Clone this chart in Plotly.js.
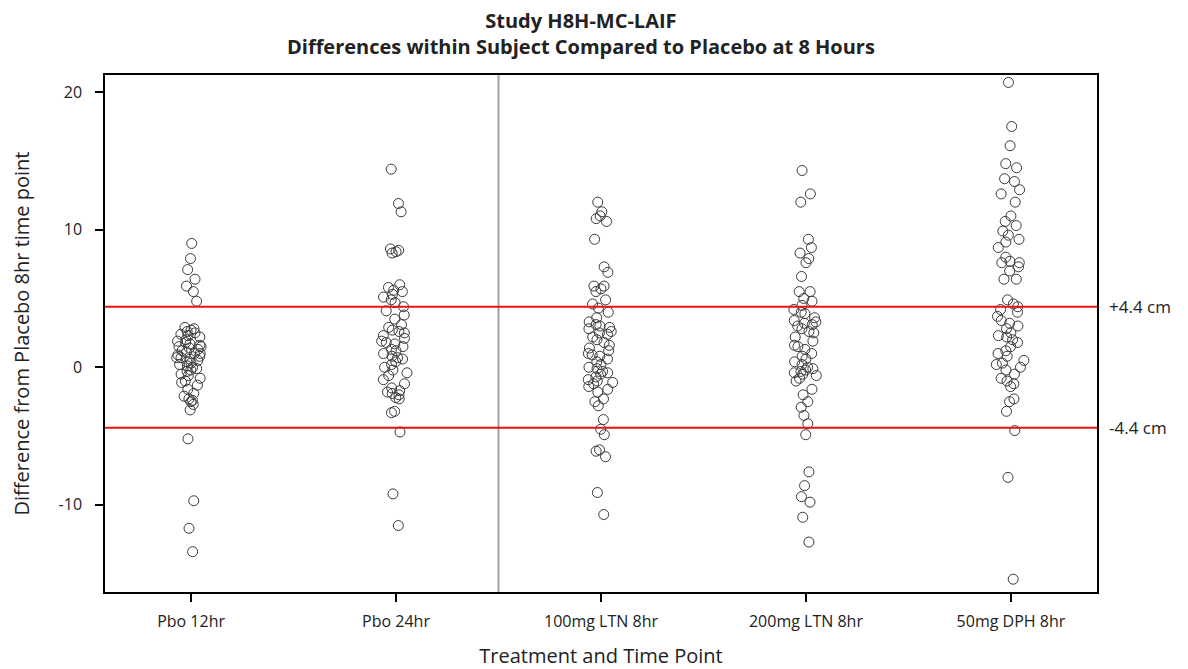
<!DOCTYPE html>
<html>
<head>
<meta charset="utf-8">
<script src="https://cdn.plot.ly/plotly-3.0.1.min.js"></script>
<style>html,body{margin:0;padding:0;background:#fff;}#chart{width:1188px;height:669px;}</style>
</head>
<body>
<div id="chart"></div>
<script>
const categories = ["Pbo 12hr", "Pbo 24hr", "100mg LTN 8hr", "200mg LTN 8hr", "50mg DPH 8hr"];

const pbo12 = [9.0, 7.9, 7.1, 6.4, 5.9, 5.5, 4.8,
  2.9, 2.8, 2.7, 2.6, 2.5, 2.4, 2.3, 2.2, 2.0, 1.9, 1.8, 1.7, 1.6, 1.5, 1.5, 1.4, 1.3, 1.2, 1.1, 1.0, 1.0, 0.9, 0.8,
  0.7, 0.7, 0.6, 0.5, 0.4, 0.3, 0.2, 0.1, 0.0, -0.1, -0.2, -0.3, -0.5, -0.6, -0.8, -1.0, -1.1, -1.3, -1.6, -1.9, -2.1, -2.3,
  -2.4, -2.5, -2.7, -3.1, -5.2, -9.7, -11.7, -13.4];

const pbo24 = [14.4, 11.9, 11.3, 8.6, 8.5, 8.4, 8.3,
  6.0, 5.8, 5.6, 5.5, 5.3, 5.1, 4.9, 4.7, 4.4, 4.1, 3.8, 3.5, 3.1, 2.9, 2.7, 2.6, 2.5, 2.3, 2.1, 1.9, 1.8, 1.7,
  1.5, 1.3, 1.2, 1.0, 0.8, 0.7, 0.6, 0.4, 0.2, 0.0, -0.2, -0.4, -0.6, -0.9, -1.2, -1.5, -1.7, -1.8, -1.9, -2.0, -2.2,
  -2.3, -3.2, -3.3, -4.7, -9.2, -11.5];

const ltn100 = [12.0, 11.3, 11.0, 10.8, 10.6, 9.3, 7.3, 6.9, 5.9, 5.9, 5.7, 5.5, 4.9,
  4.6, 4.3, 4.0, 3.6, 3.3, 3.1, 3.0, 2.9, 2.8, 2.6, 2.5, 2.4, 2.2, 2.0, 1.8, 1.6, 1.4, 1.2, 1.0, 0.9, 0.8, 0.6, 0.4,
  0.2, 0.0, -0.1, -0.3, -0.4, -0.5, -0.7, -0.9, -1.0, -1.1, -1.2, -1.4, -1.6, -1.8,
  -2.3, -2.5, -2.8, -3.8, -4.5, -4.9, -6.0, -6.1, -6.5, -9.1, -10.7];

const ltn200 = [14.3, 12.6, 12.0, 9.3, 8.7, 8.3, 7.9, 7.6, 6.6, 5.5, 5.5,
  5.0, 4.8, 4.5, 4.2, 4.0, 3.9, 3.6, 3.4, 3.3, 3.2, 3.1, 3.0, 2.8, 2.6, 2.5, 2.2, 1.9, 1.6, 1.5, 1.3, 1.0,
  0.8, 0.6, 0.4, 0.2, 0.0, -0.1, -0.2, -0.3, -0.4, -0.5, -0.6, -0.8, -1.0,
  -1.6, -2.0, -2.5, -2.9, -3.5, -4.1, -4.9, -7.6, -8.6, -9.4, -9.8, -10.9, -12.7];

const dph50 = [20.7, 17.5, 16.1, 14.8, 14.5, 13.7, 13.5, 12.9, 12.6, 12.0, 11.0, 10.6, 10.3, 9.9, 9.6,
  9.3, 9.1, 8.7, 8.0, 7.7, 7.6, 7.6, 7.3, 7.0, 6.4, 6.4,
  4.9, 4.6, 4.4, 4.2, 4.0, 3.7, 3.4, 3.2, 3.0, 2.8, 2.5, 2.3, 2.2, 2.0, 1.8, 1.5, 1.2, 1.0, 0.8, 0.5, 0.3, 0.2,
  0.0, -0.2, -0.5, -0.8, -1.0, -1.2, -1.4, -2.3, -2.5, -3.2, -4.6, -8.0, -15.4];

const groups = [pbo12, pbo24, ltn100, ltn200, dph50];
const yTickVals = [-10, 0, 10, 20];
const yTickText = ["-10", "0", "10", "20"];
const limitUpper = 4.4;
const limitLower = -4.4;
const limitLabels = ["+4.4 cm", "-4.4 cm"];

const FONT = "Open Sans, DejaVu Sans, sans-serif";

const traces = groups.map((vals, i) => ({
  type: "box",
  x: vals.map(() => categories[i]),
  y: vals,
  boxpoints: "all",
  jitter: 0.25,
  pointpos: 0,
  width: 0.6,
  line: {width: 0, color: "rgba(0,0,0,0)"},
  fillcolor: "rgba(0,0,0,0)",
  hoveron: "points",
  marker: {symbol: "circle-open", size: 10, color: "#3a3a3a", line: {width: 1, color: "#3a3a3a"}},
  showlegend: false
}));

const layout = {
  width: 1188, height: 669,
  paper_bgcolor: "#fff", plot_bgcolor: "#fff",
  margin: {l: 105, r: 91, t: 75, b: 77},
  font: {family: FONT, color: "#222", size: 16},
  title: {
    text: "<b>Study H8H-MC-LAIF</b><br><b>Differences within Subject Compared to Placebo at 8 Hours</b>",
    font: {family: FONT, size: 20, color: "#222"},
    x: 0.489, xref: "container", xanchor: "center",
    y: 0.958, yref: "container", yanchor: "top"
  },
  xaxis: {
    type: "category",
    categoryorder: "array", categoryarray: categories,
    range: [-0.42, 4.42],
    showline: true, linecolor: "#000", linewidth: 1.5, mirror: true,
    ticks: "outside", ticklen: 8, tickwidth: 1.5, tickcolor: "#000",
    ticklabelstandoff: 6,
    showgrid: false, zeroline: false,
    tickfont: {family: FONT, size: 16, color: "#222"},
    title: {text: "Treatment and Time Point", font: {family: FONT, size: 20, color: "#222"}, standoff: 19},
    automargin: false
  },
  yaxis: {
    range: [-16.33, 21.24],
    tickvals: yTickVals, ticktext: yTickText,
    showline: true, linecolor: "#000", linewidth: 1.5, mirror: true,
    ticks: "outside", ticklen: 8, tickwidth: 1.5, tickcolor: "#000",
    ticklabelstandoff: 10,
    showgrid: false, zeroline: false,
    tickfont: {family: FONT, size: 16, color: "#222"},
    title: {text: "Difference from Placebo 8hr time point", font: {family: FONT, size: 20, color: "#222"}, standoff: 24},
    automargin: false
  },
  shapes: [
    {type: "line", xref: "x", yref: "paper", x0: 1.5, x1: 1.5, y0: 0, y1: 1, line: {color: "#a0a0a0", width: 2}},
    {type: "line", xref: "paper", yref: "y", x0: 0, x1: 1, y0: limitUpper, y1: limitUpper, line: {color: "#ee1111", width: 2}},
    {type: "line", xref: "paper", yref: "y", x0: 0, x1: 1, y0: limitLower, y1: limitLower, line: {color: "#ee1111", width: 2}}
  ],
  annotations: [
    {xref: "paper", yref: "y", x: 1, xshift: 10, y: limitUpper, text: limitLabels[0], showarrow: false, xanchor: "left", font: {family: FONT, size: 17, color: "#222"}},
    {xref: "paper", yref: "y", x: 1, xshift: 10, y: limitLower, text: limitLabels[1], showarrow: false, xanchor: "left", font: {family: FONT, size: 17, color: "#222"}}
  ]
};

Plotly.newPlot("chart", traces, layout, {displayModeBar: false, responsive: false});
</script>
</body>
</html>
